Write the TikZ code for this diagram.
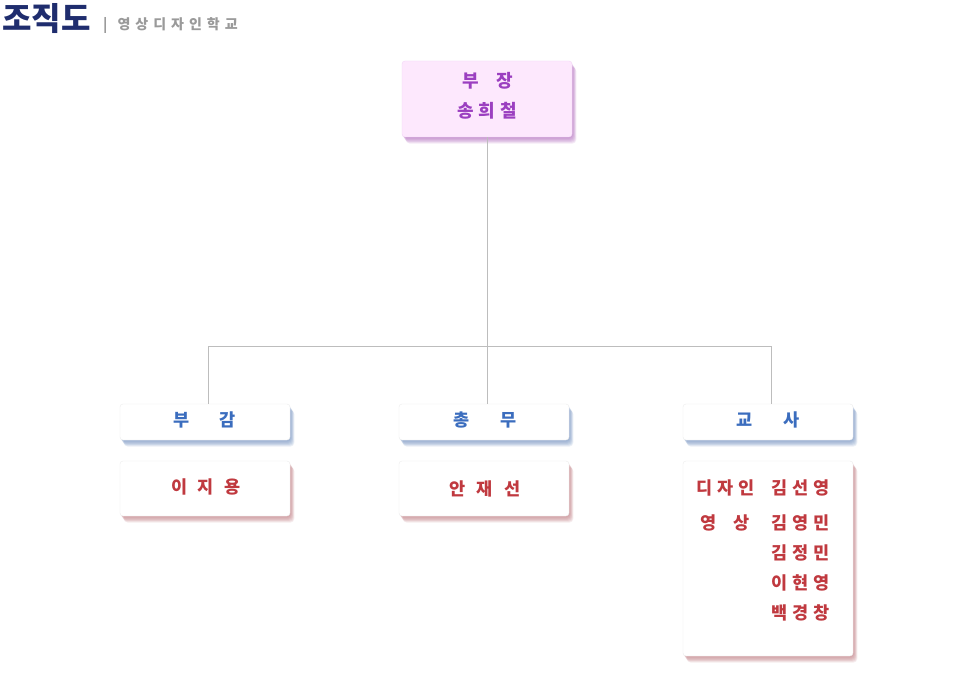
\documentclass[tikz,border=0pt]{standalone}
\usepackage{fontspec}
\setmainfont{Noto Sans CJK KR}
\usetikzlibrary{backgrounds}
\definecolor{navy}{HTML}{1F2D6E}
\definecolor{graytxt}{HTML}{9A9A9A}
\definecolor{purp}{HTML}{9B3FC0}
\definecolor{pinkfill}{HTML}{FDE8FD}
\definecolor{pinkshadow}{HTML}{B46EC0}
\definecolor{bluetxt}{HTML}{3B6DBE}
\definecolor{blueshadow}{HTML}{6F8FC0}
\definecolor{redtxt}{HTML}{C0393F}
\definecolor{redshadow}{HTML}{C07A80}
\definecolor{linegray}{HTML}{BDBDBD}
\newcommand\gp[1]{\hspace{#1pt}}
\newcommand\shadowof[2]{%
  \foreach \s in {0,1,2,3,4,5,6}{%
    \fill[#2, opacity=0.14, rounded corners=4pt]
      ([xshift=0.5pt+0.6*\s pt, yshift=-1pt-0.9*\s pt]#1.south west) rectangle ([xshift=0.5pt+0.6*\s pt, yshift=-1pt-0.9*\s pt]#1.north east);
  }%
}
\tikzset{
  boxbase/.style={rectangle, rounded corners=3pt, inner sep=0pt},
  pinkbox/.style={boxbase, fill=pinkfill, draw=pinkfill!90!purp},
  whitebox/.style={boxbase, fill=white, draw=black!7},
  toptext/.style={font=\fontsize{18}{20}\selectfont\bfseries, text=purp, inner sep=0pt},
  bluetext/.style={font=\fontsize{17.5}{20}\selectfont\bfseries, text=bluetxt, inner sep=0pt},
  redtext/.style={font=\fontsize{17.5}{20}\selectfont\bfseries, text=redtxt, inner sep=0pt},
  teachtext/.style={font=\fontsize{17.5}{20}\selectfont\bfseries, text=redtxt, inner sep=0pt},
  conn/.style={draw=linegray, line width=0.8pt}
}
\begin{document}
\begin{tikzpicture}[x=1pt, y=-1pt]
\useasboundingbox (0,0) rectangle (964,698);

% title
\node[anchor=west, inner sep=0pt, font=\fontsize{32}{34}\selectfont\bfseries, text=navy] (title) at (2,19) {조직도};
\node[anchor=west, inner sep=0pt, font=\fontsize{14}{15}\selectfont\bfseries, text=graytxt] (subtitle) at (103,25) {|\gp{10}영\gp{5}상\gp{5}디\gp{5}자\gp{5}인\gp{5}학\gp{5}교};

% boxes
\node[pinkbox, minimum width=170pt, minimum height=76pt] (top) at (487,99) {};
\node[whitebox, minimum width=170pt, minimum height=36pt] (bugam) at (205,422) {};
\node[whitebox, minimum width=170pt, minimum height=36pt] (chongmu) at (484,422) {};
\node[whitebox, minimum width=170pt, minimum height=36pt] (gyosa) at (768,422) {};
\node[whitebox, minimum width=170pt, minimum height=55pt] (n1) at (205,488.5) {};
\node[whitebox, minimum width=170pt, minimum height=55pt] (n2) at (484,488.5) {};
\node[whitebox, minimum width=170pt, minimum height=195pt] (n3) at (768,558.5) {};

\begin{scope}[on background layer]
  \fill[white] (0,0) rectangle (964,698);
  \shadowof{top}{pinkshadow}
  \shadowof{bugam}{blueshadow}
  \shadowof{chongmu}{blueshadow}
  \shadowof{gyosa}{blueshadow}
  \shadowof{n1}{redshadow}
  \shadowof{n2}{redshadow}
  \shadowof{n3}{redshadow}
\end{scope}

% connectors
\coordinate (j) at (487,346);
\coordinate (jl) at (208,346);
\coordinate (jr) at (771,346);
\draw[conn] (top.south) -- (j);
\draw[conn] (jl) -- (jr);
\draw[conn] (jl) -- (jl |- bugam.north);
\draw[conn] (j) -- (j |- chongmu.north);
\draw[conn] (jr) -- (jr |- gyosa.north);

% texts
\node[toptext] (t1) at (488,81) {부\gp{17}장};
\node[toptext] (t2) at (487,111) {송\gp{5}희\gp{5}철};
\node[bluetext] (b1) at (205,420) {부\gp{30}감};
\node[bluetext] (b2) at (485,420) {총\gp{31}무};
\node[bluetext] (b3) at (768,420) {교\gp{31}사};
\node[redtext] (r1) at (206,487) {이\gp{10}지\gp{10}용};
\node[redtext] (r2) at (485,489) {안\gp{11}재\gp{11}선};

\node[teachtext, anchor=west] (d1) at (696,488) {디\gp{5}자\gp{5}인};
\node[teachtext, anchor=west] (d2) at (700,523) {영\gp{17}상};
\node[teachtext, anchor=west] (k1) at (771,488) {김\gp{5}선\gp{5}영};
\node[teachtext, anchor=west] (k2) at (771,523) {김\gp{5}영\gp{5}민};
\node[teachtext, anchor=west] (k3) at (771,553) {김\gp{5}정\gp{5}민};
\node[teachtext, anchor=west] (k4) at (771,583) {이\gp{5}현\gp{5}영};
\node[teachtext, anchor=west] (k5) at (771,613) {백\gp{5}경\gp{5}창};
\end{tikzpicture}
\end{document}
